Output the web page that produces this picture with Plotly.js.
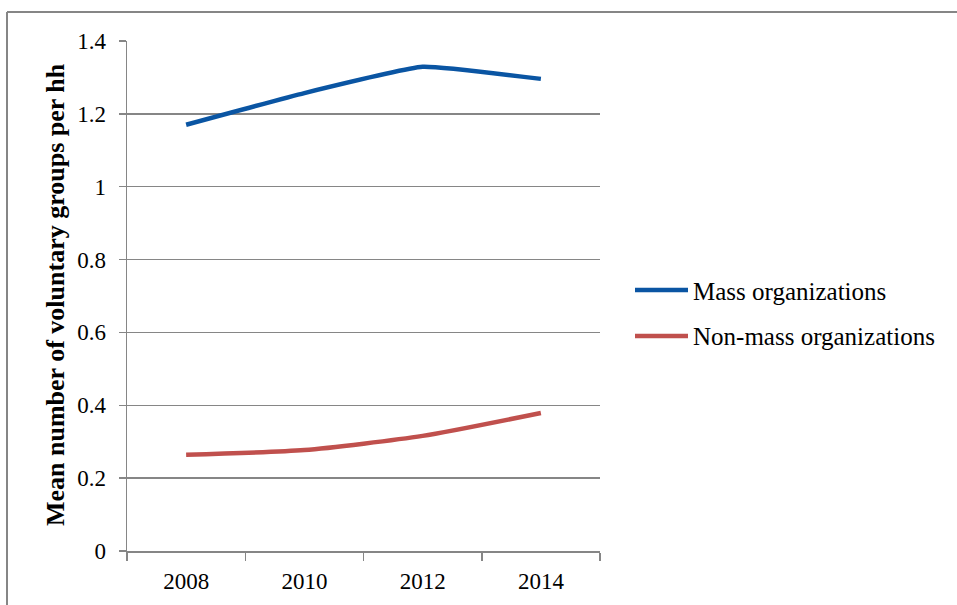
<!DOCTYPE html>
<html>
<head>
<meta charset="utf-8">
<script src="https://cdn.plot.ly/plotly-3.0.1.min.js"></script>
<style>html,body{margin:0;padding:0;background:#fff;}#chart{width:957px;height:605px;}</style>
</head>
<body>
<div id="chart"></div>
<script>
var years = ['2008', '2010', '2012', '2014'];
var massOrganizations = [1.17, 1.257, 1.329, 1.296];
var nonMassOrganizations = [0.264, 0.277, 0.316, 0.379];
var seriesNames = ['Mass organizations', 'Non-mass organizations'];
var yTitle = 'Mean number of voluntary groups per hh';

var blue = '#0A55A3', red = '#C0504D', gray = '#868686';
var serif = 'Liberation Serif, Tinos, DejaVu Serif, Noto Serif, serif';

// pixel -> paper helpers for decoration only
var L = 127, R = 600, T = 41, B = 551;
function px(x) { return (x - L) / (R - L); }
function py(y) { return (B - y) / (B - T); }

var traces = [
  { x: years, y: massOrganizations, name: seriesNames[0], type: 'scatter', mode: 'lines',
    line: { color: blue, width: 4.5, shape: 'spline', smoothing: 0.35 }, showlegend: false },
  { x: years, y: nonMassOrganizations, name: seriesNames[1], type: 'scatter', mode: 'lines',
    line: { color: red, width: 4.5, shape: 'spline', smoothing: 0.6 }, showlegend: false }
];

var layout = {
  width: 957, height: 605,
  margin: { l: L, r: 957 - R, t: T, b: 605 - B },
  paper_bgcolor: '#fff', plot_bgcolor: '#fff',
  font: { family: serif, color: '#000', size: 23 },
  showlegend: false,
  xaxis: {
    type: 'category', range: [-0.5, 3.5], tickson: 'boundaries',
    ticks: 'outside', ticklen: 8, tickwidth: 1.5, tickcolor: gray,
    showline: true, linecolor: gray, linewidth: 1.5,
    showgrid: false, zeroline: false, fixedrange: true,
    tickfont: { family: serif, size: 23, color: '#000', weight: 'normal' }, ticklabelstandoff: 9
  },
  yaxis: {
    range: [0, 1.4], dtick: 0.2, tick0: 0,
    ticks: 'outside', ticklen: 7, tickwidth: 1.5, tickcolor: gray,
    showline: true, linecolor: gray, linewidth: 1.5,
    showgrid: true, gridcolor: gray, gridwidth: 1.5, zeroline: false,
    tickfont: { family: serif, size: 23, color: '#000', weight: 'normal' }, ticklabelstandoff: 8
  },
  shapes: [
    { type: 'line', xref: 'paper', yref: 'paper', x0: px(7), x1: px(960), y0: py(12), y1: py(12), line: { color: gray, width: 2 } },
    { type: 'line', xref: 'paper', yref: 'paper', x0: px(7), x1: px(7), y0: py(12), y1: py(610), line: { color: gray, width: 2 } },
    { type: 'line', xref: 'paper', yref: 'paper', x0: px(635), x1: px(688), y0: py(290), y1: py(290), line: { color: blue, width: 4.5 } },
    { type: 'line', xref: 'paper', yref: 'paper', x0: px(635), x1: px(688), y0: py(336), y1: py(336), line: { color: red, width: 4.5 } }
  ],
  annotations: [
    { xref: 'paper', yref: 'paper', x: px(55), y: py(295), xanchor: 'center', yanchor: 'middle', showarrow: false,
      textangle: -90, text: '<b>' + yTitle + '</b>', font: { family: serif, size: 26, color: '#000' } },
    { xref: 'paper', yref: 'paper', x: px(691), y: py(291), xanchor: 'left', yanchor: 'middle', showarrow: false,
      text: seriesNames[0], font: { family: serif, size: 25, color: '#000', weight: 'normal' } },
    { xref: 'paper', yref: 'paper', x: px(691), y: py(337), xanchor: 'left', yanchor: 'middle', showarrow: false,
      text: seriesNames[1], font: { family: serif, size: 25, color: '#000', weight: 'normal' } }
  ]
};

Plotly.newPlot('chart', traces, layout, { displayModeBar: false, staticPlot: true });
</script>
</body>
</html>
